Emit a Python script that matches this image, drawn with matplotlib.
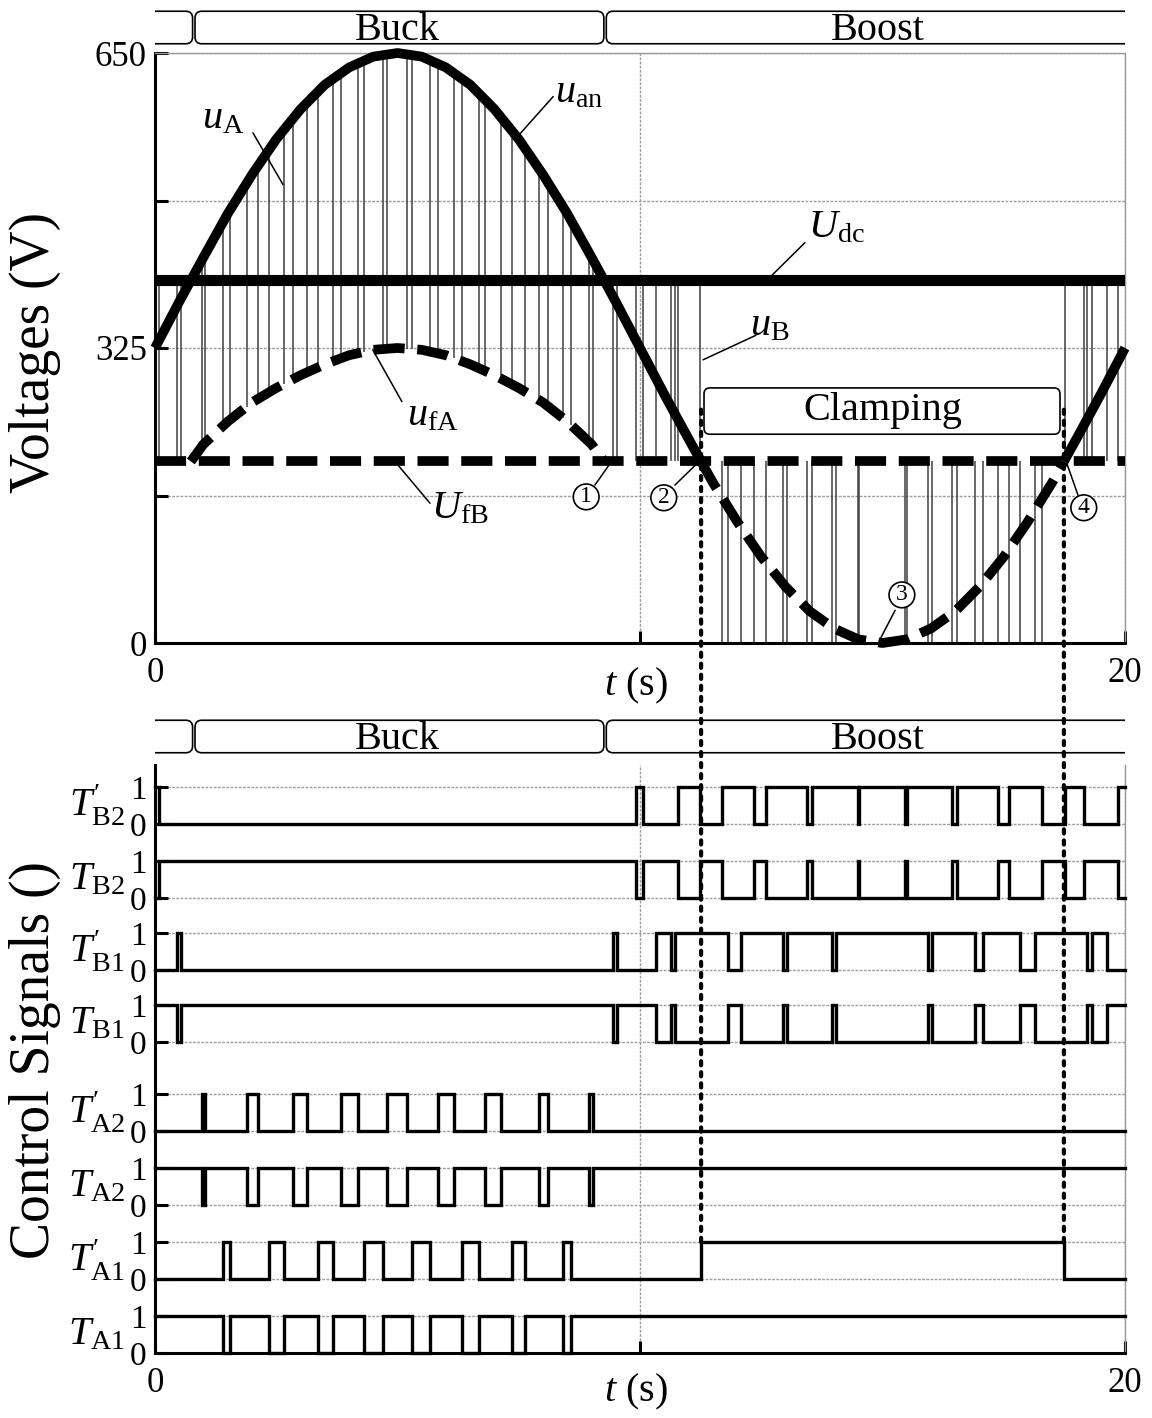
import numpy as np
import matplotlib.pyplot as plt
import matplotlib.transforms as mtransforms
from matplotlib.patches import FancyBboxPatch, ConnectionPatch

plt.rcParams['font.family'] = ['Liberation Serif', 'DejaVu Serif']
plt.rcParams['mathtext.fontset'] = 'custom'
plt.rcParams['mathtext.rm'] = 'Liberation Serif'
plt.rcParams['mathtext.it'] = 'Liberation Serif:italic'
plt.rcParams['mathtext.bf'] = 'Liberation Serif:bold'

# ---------------- data ----------------
t_grid = np.linspace(0, 20, 41)
u_an = [325, 376, 425, 473, 516, 555, 588, 615, 634, 646, 650, 646, 634, 615, 588, 555, 516, 473, 425, 376,
        325, 274, 225, 177, 134, 95, 62, 35, 16, 4, 0, 4, 16, 35, 62, 95, 134, 177, 225, 274, 325]
U_dc = 400
U_fB = 200
# crossings: u_an=U_dc, u_fA back to U_fB (1), u_an=U_fB falling (2), rising (4)
t_cross = [0.74, 9.26, 11.26, 18.74]
t_fA = [0.74, 1.0, 1.5, 2.0, 2.5, 3.0, 3.5, 4.0, 4.5, 5.0, 5.5, 6.0, 6.5, 7.0, 7.5, 8.0, 8.5, 9.0, 9.26]
u_fA = [200, 219, 244, 265, 281, 295, 307, 317, 323, 325, 323, 317, 307, 295, 281, 265, 244, 219, 200]
mode_edges = [0.8, 9.28]

# switching edges (s) of the gate signals and their level at t=0
edges_TA1 = [1.40, 1.55, 2.36, 2.65, 3.37, 3.66, 4.30, 4.71, 5.29, 5.67, 6.32, 6.69, 7.36, 7.63, 8.42, 8.57]
edges_TpA1 = edges_TA1 + [11.26, 18.74]
edges_TA2 = [0.96, 1.03, 1.89, 2.13, 2.85, 3.13, 3.83, 4.19, 4.79, 5.19, 5.84, 6.16, 6.80, 7.13, 7.92, 8.11,
             8.95, 9.04]
edges_TpA2 = list(edges_TA2)
edges_TB1 = [0.46, 0.54, 9.45, 9.53, 10.33, 10.64, 10.72, 11.81, 12.08, 12.95, 13.03, 13.96, 14.04, 15.94,
             16.02, 16.91, 17.07, 17.84, 18.14, 19.22, 19.32, 19.63]
edges_TpB1 = list(edges_TB1)
edges_TB2 = [0.08, 9.92, 10.06, 10.78, 11.24, 11.69, 12.35, 12.60, 13.44, 13.55, 14.49, 14.52, 15.46, 15.50,
             16.43, 16.53, 17.38, 17.61, 18.29, 18.76, 19.15, 19.86]
edges_TpB2 = list(edges_TB2)

sig_names = ["$T_{\\mathrm{A1}}$", "$T^{\\prime}_{\\mathrm{A1}}$", "$T_{\\mathrm{A2}}$", "$T^{\\prime}_{\\mathrm{A2}}$",
             "$T_{\\mathrm{B1}}$", "$T^{\\prime}_{\\mathrm{B1}}$", "$T_{\\mathrm{B2}}$", "$T^{\\prime}_{\\mathrm{B2}}$"]
sig_start = [1, 0, 1, 0, 1, 0, 0, 1]
sig_edges = [edges_TA1, edges_TpA1, edges_TA2, edges_TpA2, edges_TB1, edges_TpB1, edges_TB2, edges_TpB2]

# layout of the stacked signals (offset of the 0 level)
sig_base = [0, 2, 4, 6, 8.4, 10.35, 12.3, 14.3]

W, H = 1152, 1418
fig = plt.figure(figsize=(W / 100, H / 100), dpi=100)
ax1 = fig.add_axes([155 / W, 1 - 643 / H, 970 / W, 590 / H])
ax2 = fig.add_axes([155 / W, 1 - 1353 / H, 970 / W, 588 / H])
band1 = fig.add_axes([155 / W, 1 - 47 / H, 970 / W, 39 / H])
band2 = fig.add_axes([155 / W, 1 - 756 / H, 970 / W, 39 / H])

grid_kw = dict(color='0.62', lw=1.0, ls=(0, (2, 1)))


def style_axes(ax):
    ax.set_xlim(0, 20)
    ax.set_xticks([0, 10, 20])
    ax.set_xticklabels(['0', '', '20'])
    ax.tick_params(axis='both', which='both', direction='in', length=9, width=2.2,
                   labelsize=25, top=False, right=False)
    ax.tick_params(axis='x', pad=10)
    ax.tick_params(axis='y', pad=6)
    for s in ['left', 'bottom']:
        ax.spines[s].set_linewidth(2.2)
    for s in ['top', 'right']:
        ax.spines[s].set_color('0.6')
        ax.spines[s].set_linewidth(1.0)
        ax.spines[s].set_linestyle((0, (2, 1)))
    ax.xaxis.grid(True, **grid_kw)
    ax.yaxis.grid(True, which='both', **grid_kw)
    ax.set_axisbelow(True)


# ---------------- top: voltages ----------------
style_axes(ax1)
ax1.set_ylim(0, 650)
ax1.set_yticks([0, 325, 650])
ax1.set_yticks([162.5, 487.5], minor=True)

t_arr = np.asarray(t_grid)
u_arr = np.asarray(u_an, dtype=float)

# PWM pulses of u_A (buck) and u_B (boost / clamping)
a_edges = np.array(sorted(set(edges_TA1 + edges_TA2)))
ax1.vlines(a_edges, np.interp(a_edges, t_fA, u_fA), np.interp(a_edges, t_arr, u_arr),
           colors='0.25', lw=1.1, zorder=1)
b_edges = np.array(sorted(set(edges_TB1 + edges_TB2)))
in_clamp = (b_edges >= t_cross[2]) & (b_edges <= t_cross[3])
ax1.vlines(b_edges[in_clamp], 0, U_fB, colors='0.25', lw=1.1, zorder=1)
ax1.vlines(b_edges[~in_clamp], U_fB, U_dc, colors='0.25', lw=1.1, zorder=1)

# u_an (solid) outside the clamping interval
m1 = t_arr < t_cross[2]
m2 = t_arr > t_cross[3]
m3 = (t_arr > t_cross[2]) & (t_arr < t_cross[3])
solid_kw = dict(color='black', lw=7, solid_capstyle='butt', zorder=4, clip_on=False)
ax1.plot(np.r_[t_arr[m1], t_cross[2]], np.r_[u_arr[m1], U_fB], **solid_kw)
ax1.plot(np.r_[t_cross[3], t_arr[m2]], np.r_[U_fB, u_arr[m2]], **solid_kw)
ax1.axhline(U_dc, color='black', lw=8, zorder=4)

dash_kw = dict(color='black', lw=7, ls=(0, (3.2, 1.3)), dash_capstyle='butt', zorder=4, clip_on=False)
ax1.plot([0, 20], [U_fB, U_fB], **dash_kw)
ax1.plot(t_fA, u_fA, **dash_kw)
ax1.plot(np.r_[t_cross[2], t_arr[m3], t_cross[3]], np.r_[U_fB, u_arr[m3], U_fB], **dash_kw)

# clamping box
clamp = FancyBboxPatch((11.32, 230), 18.66 - 11.32, 51,
                       boxstyle='round,pad=0,rounding_size=0.12', mutation_aspect=55,
                       fc='white', ec='black', lw=1.2, zorder=5)
ax1.add_patch(clamp)
ax1.text(15.0, 256, 'Clamping', ha='center', va='center', fontsize=29, zorder=6)

# labels with leader lines
lead = dict(arrowstyle='-', lw=1.1, color='black', shrinkA=0, shrinkB=0)
labels = [
    ('$u_{\\mathrm{A}}$', (1.4, 578), (2.02, 562), (2.64, 505)),
    ('$u_{\\mathrm{an}}$', (8.75, 606), (8.21, 602), (7.51, 560)),
    ('$U_{\\mathrm{dc}}$', (14.05, 457), (13.40, 441), (12.68, 403)),
    ('$u_{\\mathrm{B}}$', (12.68, 350), (12.39, 339), (11.30, 312)),
    ('$u_{\\mathrm{fA}}$', (5.72, 250), (5.09, 266), (4.49, 323)),
    ('$U_{\\mathrm{fB}}$', (6.28, 148), (5.67, 154), (5.01, 196)),
]
for txt, pos, p0, p1 in labels:
    ax1.text(pos[0], pos[1], txt, ha='center', va='center', fontsize=29, zorder=6)
    ax1.annotate('', xy=p1, xytext=p0, arrowprops=lead, zorder=6)

circles = [('1', (8.89, 161), (9.07, 174), (9.40, 199)),
           ('2', (10.49, 160), (10.72, 174), (11.20, 199)),
           ('3', (15.40, 53), (15.26, 36), (14.93, 2)),
           ('4', (19.15, 149), (19.03, 163), (18.80, 198))]
for txt, pos, p0, p1 in circles:
    ax1.annotate('', xy=p1, xytext=p0, arrowprops=lead, zorder=6)
    ax1.text(pos[0], pos[1], txt, ha='center', va='center', fontsize=17, zorder=7,
             bbox=dict(boxstyle='circle,pad=0.1', fc='white', ec='black', lw=1.2))

ax1.text(9.92, -0.072, '$t$ (s)', transform=ax1.get_xaxis_transform(),
         ha='center', va='center', fontsize=29)

# ---------------- bottom: control signals ----------------
style_axes(ax2)
ax2.set_ylim(0, 15.9)
ax2.spines['top'].set_visible(False)
yt = [b + k for b in sig_base for k in (0, 1)]
ax2.set_yticks(yt)
ax2.set_yticklabels(['0', '1'] * len(sig_base))
ax2.tick_params(axis='y', labelsize=24)

blend = mtransforms.blended_transform_factory(ax2.transAxes, ax2.transData)
for name, start, edges, base in zip(sig_names, sig_start, sig_edges, sig_base):
    xs, ys = [0.0], [start]
    lvl = start
    for e in edges:
        xs += [e, e]
        ys += [lvl, 1 - lvl]
        lvl = 1 - lvl
    xs.append(20.0)
    ys.append(lvl)
    ax2.plot(xs, np.asarray(ys) + base, color='black', lw=2.4, zorder=3,
             solid_joinstyle='miter', clip_on=False)
    ax2.text(-0.031, base + 0.5, name, transform=blend, ha='right', va='center', fontsize=29)

ax2.text(9.92, -0.066, '$t$ (s)', transform=ax2.get_xaxis_transform(),
         ha='center', va='center', fontsize=29)

# dotted markers of the clamping interval
for tc in (t_cross[2], t_cross[3]):
    cp = ConnectionPatch(xyA=(tc, 257), coordsA=ax1.transData,
                         xyB=(tc, sig_base[1] + 1), coordsB=ax2.transData,
                         color='black', lw=3.0, ls=':', zorder=8)
    fig.add_artist(cp)


# ---------------- Buck / Boost bands ----------------
def draw_band(bax):
    bax.set_xlim(0, 20)
    bax.set_ylim(-0.1, 1.1)
    bax.axis('off')
    bounds = [-1.0] + mode_edges + [21.0]
    for a, b in zip(bounds[:-1], bounds[1:]):
        p = FancyBboxPatch((a + 0.025, 0), b - a - 0.05, 1,
                           boxstyle='round,pad=0,rounding_size=0.14', mutation_aspect=1.5,
                           fc='none', ec='black', lw=1.2)
        bax.add_patch(p)
    bax.text(5.0, 0.42, 'Buck', ha='center', va='center', fontsize=29)
    bax.text(14.9, 0.42, 'Boost', ha='center', va='center', fontsize=29)


draw_band(band1)
draw_band(band2)

fig.text(35 / W, 1 - 352 / H, 'Voltages (V)', rotation=90, ha='center', va='center', fontsize=40)
fig.text(35 / W, 1 - 1060 / H, 'Control Signals ()', rotation=90, ha='center', va='center', fontsize=40)

fig.savefig('out.png', dpi=100)
